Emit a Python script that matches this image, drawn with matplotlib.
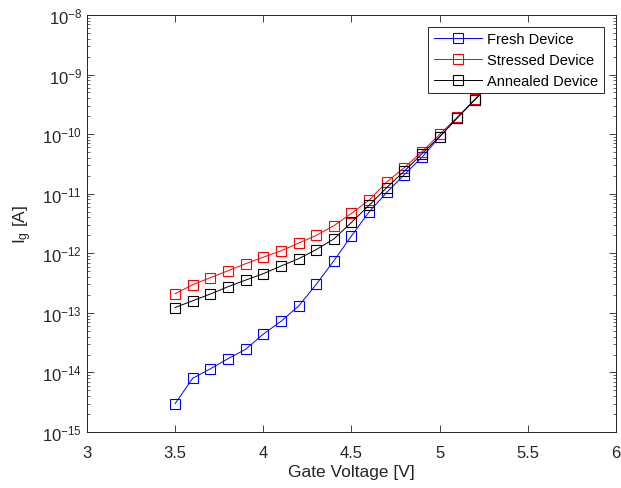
import numpy as np
import matplotlib
matplotlib.use('Agg')
import matplotlib.pyplot as plt
from matplotlib.ticker import LogLocator, NullLocator, NullFormatter

plt.rcParams['font.family'] = ['Liberation Sans', 'DejaVu Sans']
plt.rcParams['mathtext.fontset'] = 'custom'
plt.rcParams['mathtext.rm'] = 'Liberation Sans'
plt.rcParams['mathtext.it'] = 'Liberation Sans:italic'
plt.rcParams['mathtext.bf'] = 'Liberation Sans:bold'

# gate voltage sweep [V]
voltage = [3.5, 3.6, 3.7, 3.8, 3.9, 4.0, 4.1, 4.2, 4.3, 4.4, 4.5, 4.6,
           4.7, 4.8, 4.9, 5.0, 5.1, 5.2, 5.3, 5.4, 5.5]

# gate current [A]
fresh = [3.0e-15, 8.0e-15, 1.15e-14, 1.7e-14, 2.45e-14, 4.4e-14, 7.2e-14,
         1.3e-13, 3.0e-13, 7.5e-13, 1.96e-12, 4.95e-12,
         1.05e-11, 2.1e-11, 4.1e-11, 9.0e-11, 1.88e-10, 3.8e-10,
         7.5e-10, 1.5e-9, 3.0e-9]
stressed = [2.1e-13, 2.97e-13, 3.9e-13, 5.1e-13, 6.7e-13, 8.6e-13, 1.1e-12,
            1.48e-12, 2.0e-12, 2.9e-12, 4.7e-12, 7.8e-12,
            1.58e-11, 2.74e-11, 5.1e-11, 9.9e-11, 1.92e-10, 3.85e-10,
            7.5e-10, 1.5e-9, 3.0e-9]
annealed = [1.23e-13, 1.6e-13, 2.07e-13, 2.75e-13, 3.55e-13, 4.55e-13, 6.1e-13,
            8.1e-13, 1.15e-12, 1.74e-12, 3.3e-12, 6.4e-12,
            1.27e-11, 2.4e-11, 4.7e-11, 9.1e-11, 1.88e-10, 3.8e-10,
            7.5e-10, 1.5e-9, 3.0e-9]

fig = plt.figure(figsize=(6.21, 4.89), dpi=100)
ax = fig.add_axes([0.1400, 0.1145, 0.852, 0.8528])

ms = 6.5
ax.semilogy(voltage, fresh, '-s', color='#0000ff', lw=0.7, ms=ms,
            mfc='none', mew=0.8, label='Fresh Device')
ax.semilogy(voltage, stressed, '-s', color='#ff0000', lw=0.7, ms=ms,
            mfc='none', mew=0.8, label='Stressed Device')
ax.semilogy(voltage, annealed, '-s', color='#000000', lw=0.7, ms=ms,
            mfc='none', mew=0.8, label='Annealed Device')

ax.set_xlim(3, 6)
ax.set_ylim(1e-15, 1e-8)
ax.set_xticks([3, 3.5, 4, 4.5, 5, 5.5, 6])
ax.set_xticklabels(['3', '3.5', '4', '4.5', '5', '5.5', '6'])
ax.xaxis.set_minor_locator(NullLocator())
ax.yaxis.set_major_locator(LogLocator(base=10, numticks=20))
ax.yaxis.set_minor_locator(LogLocator(base=10, subs=np.arange(2, 10), numticks=20))
ax.yaxis.set_minor_formatter(NullFormatter())

axcol = '#262626'
for s in ax.spines.values():
    s.set_color(axcol)
    s.set_linewidth(0.7)
ax.tick_params(which='both', direction='in', top=True, right=True,
               colors=axcol, labelsize=12)
ax.tick_params(which='major', length=5, width=0.6)
ax.tick_params(which='minor', length=2.5, width=0.5)
ax.tick_params(axis='x', which='major', pad=9)

ax.set_xlabel('Gate Voltage [V]', fontsize=12.5, color=axcol, labelpad=3)
ax.set_ylabel(r'$\mathregular{I_g}$ [A]', fontsize=12.5, color=axcol, labelpad=6)

leg = ax.legend(loc='upper right', fontsize=10.5, frameon=True, fancybox=False,
                framealpha=1, edgecolor=axcol, borderpad=0.4,
                handlelength=3.3, labelspacing=0.45, handletextpad=0.35,
                borderaxespad=0.8)
leg.get_frame().set_linewidth(0.7)

fig.savefig('out.png', dpi=100)
